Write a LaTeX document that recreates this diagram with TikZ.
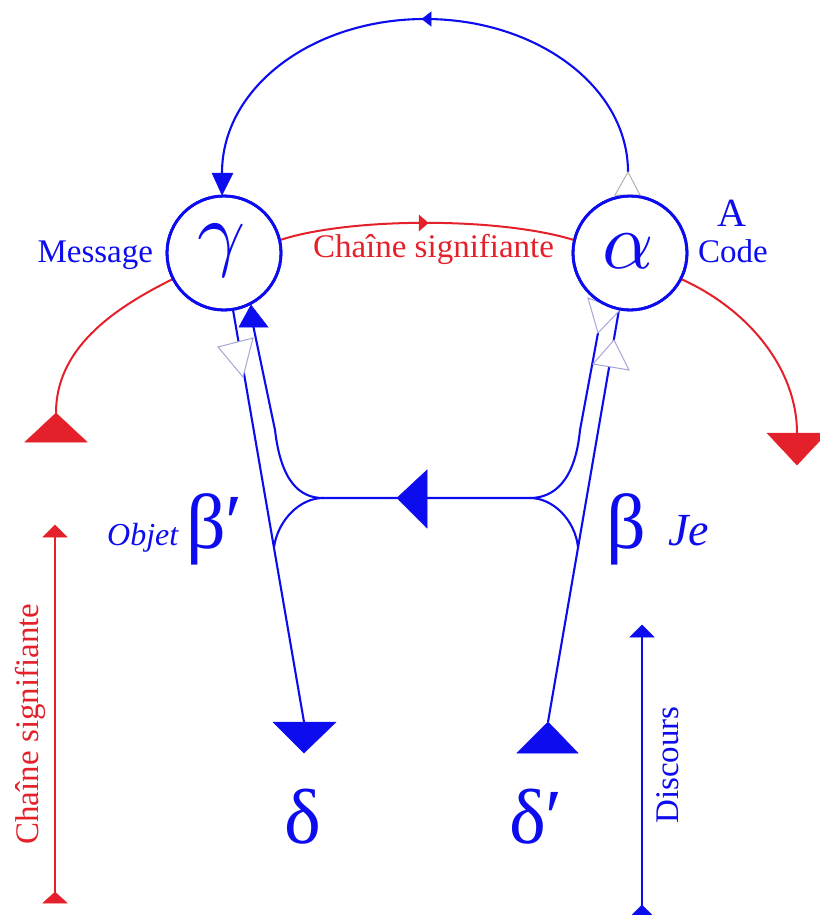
\documentclass[tikz,border=0pt]{standalone}
\usepackage{graphicx}
\usepackage{fontspec}
\setmainfont{Liberation Serif}
\definecolor{lblue}{RGB}{12,12,238}
\definecolor{lred}{RGB}{228,32,42}
\definecolor{pale}{RGB}{165,165,215}
\begin{document}
\begin{tikzpicture}[x=1pt,y=-1pt,
  circ/.style={circle,draw=lblue,line width=2.8pt,minimum size=114pt,inner sep=0pt,outer sep=0pt},
  bl/.style={draw=lblue,line width=2.1pt},
  rl/.style={draw=lred,line width=2pt},
  thin/.style={line width=1.5pt},
  bhead/.style={fill=lblue,draw=lblue,line width=0.5pt},
  rhead/.style={fill=lred,draw=lred,line width=0.5pt},
  hollow/.style={draw=pale,fill=white,line width=1pt},
  txt/.style={inner sep=0pt,outer sep=0pt,font=\fontsize{33}{40}\selectfont},
  big/.style={inner sep=0pt,outer sep=0pt,text=lblue},
  greek/.style={inner sep=0pt,outer sep=0pt,text=lblue,font=\fontsize{78}{92}\selectfont}]
\useasboundingbox (0,0) rectangle (819,915);

% circles
\node[circ] (g) at (224,253) {};
\node[circ] (a) at (630,253) {};

% named coordinates
\coordinate (atop) at (628,172);
\coordinate (gtop) at (222,173);
\coordinate (dd) at (304,722);
\coordinate (dp) at (548,722);
\coordinate (jl) at (323,498);
\coordinate (jr) at (530,498);
\coordinate (rl1) at (56,413);
\coordinate (rr1) at (797,433);
\coordinate (vr1) at (55,533);
\coordinate (vr2) at (55,900);
\coordinate (vb1) at (642,635);
\coordinate (vb2) at (642,915);

% top arc alpha -> gamma
\draw[bl] (atop) .. controls (628,87) and (537,19) .. (425,19)
               .. controls (313,19) and (222,87) .. (gtop);
\fill[bhead] (422,19) -- (431,12) -- (431,26) -- cycle;
\fill[bhead] (212,173) -- (233,173) -- (222,195) -- cycle;
\draw[hollow,draw=gray!60] (atop) -- (640,195) -- (615,195) -- cycle;

% red chain between circles
\draw[rl] (g.13) .. controls (350,217) and (500,217) .. (a.167);
\fill[rhead] (428,223) -- (419,215) -- (419,231) -- cycle;

% red side arcs
\draw[rl] (g.-153) .. controls (110,310) and (56,350) .. (rl1);
\fill[rhead] (rl1) -- (87,442) -- (25,442) -- cycle;
\draw[rl] (a.-27) .. controls (750,310) and (797,370) .. (rr1);
\fill[rhead] (767,433) -- (827,433) -- (797,465) -- cycle;

% long lines
\draw[bl] (g.-81) -- (dd);
\fill[bhead] (273,722) -- (336,722) -- (304,753) -- cycle;
\draw[bl] (a.-101.5) -- (dp);
\fill[bhead] (dp) -- (578,753) -- (517,753) -- cycle;

% inner lines and junction
\draw[bl] (252,320) -- (275,430) .. controls (281,482) and (300,498) .. (jl)
          -- (jr) .. controls (553,498) and (575,482) .. (580,430) -- (598,333);
\draw[bl] (jl) .. controls (300,498) and (278,520) .. (274,547);
\draw[bl] (jr) .. controls (553,498) and (575,520) .. (578,547);
\fill[bhead] (397,498) -- (427,470) -- (427,528) -- cycle;
\fill[bhead] (251,305) -- (268,327) -- (239,327) -- cycle;

% hollow triangles
\draw[hollow] (218,347) -- (253,338) -- (243,377) -- cycle;
\draw[hollow] (588,298) -- (598,333) -- (620,310) -- cycle;
\draw[hollow] (614,340) -- (593,364) -- (629,370) -- cycle;

% circle outlines on top
\draw[lblue,line width=2.8pt] (g.center) circle[radius=57];
\draw[lblue,line width=2.8pt] (a.center) circle[radius=57];

% vertical arrows
\draw[lred,thin] (vr1) -- (vr2);
\fill[rhead] (55,525) -- (67,537) -- (43,537) -- cycle;
\fill[rhead] (55,892) -- (67,903) -- (43,903) -- cycle;
\draw[lblue,thin] (vb1) -- (vb2);
\fill[bhead] (642,625) -- (654,637) -- (630,637) -- cycle;
\fill[bhead] (642,905) -- (654,917) -- (630,917) -- cycle;

% texts
\node[big,anchor=base] (gam) at (222,260) {\scalebox{8.4}{$\gamma$}};
\node[big,anchor=base] (alp) at (628,268) {\scalebox{8}{$\alpha$}};
\node[txt,text=lblue,anchor=base east] (msg) at (153,262) {Message};
\node[inner sep=0pt,text=lblue,font=\fontsize{40}{48}\selectfont,anchor=base] (A) at (732,226) {A};
\node[txt,text=lblue,anchor=base west] (code) at (698,262) {Code};
\node[txt,text=lred,anchor=base west] (cs1) at (313,257) {Chaîne signifiante};
\node[inner sep=0pt,text=lblue,font=\itshape\fontsize{32}{40}\selectfont,anchor=base west] (obj) at (107,545) {Objet};
\node[greek,anchor=base west] (bp) at (186,548) {β′};
\node[greek,anchor=base west] (b) at (606,548) {β};
\node[inner sep=0pt,text=lblue,font=\itshape\fontsize{46}{54}\selectfont,anchor=base west] (je) at (668,545) {Je};
\node[greek,anchor=base west] (d) at (284,843) {δ};
\node[greek,anchor=base west] (dpr) at (509,843) {δ′};
\node[txt,text=lred,rotate=90] (cs2) at (30,724) {Chaîne signifiante};
\node[txt,text=lblue,rotate=90] (disc) at (668,765) {Discours};
\end{tikzpicture}
\end{document}
